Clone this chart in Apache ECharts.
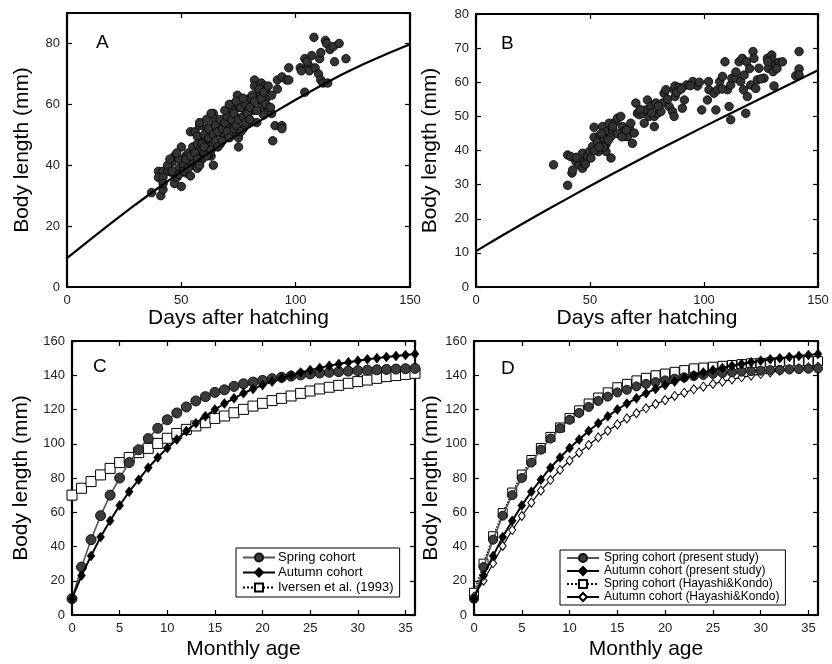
<!DOCTYPE html>
<html>
  <head>
    <meta charset="utf-8" />
    <title>Body length growth</title>
    <script src="https://cdn.jsdelivr.net/npm/echarts@6/dist/echarts.min.js"></script>
    <style>
      html, body { margin: 0; padding: 0; background: #fff; }
    </style>
  </head>

  <body>
    <div id="main" style="width: 832px; height: 664px"></div>
    <script type="text/javascript">
      // panel A: body length vs days after hatching (spring)
      const scatterA = [
        [37,31],[41,30],[42,32],[40,38],[40,36],[42,38],[44,38],[46,37.5],[42,36],[42,34],[47,34],[48,36],[50,33],
        [46,41],[47,43],[49,42],[50,46],[49,39],[51,40],[52,43],[52,37.5],[54,36.5],[53,44],[55,40],[54,41],[57,39],
        [54,51],[56,51],[58,53],[57,49.5],[57,43],[58,45],[59,42],[60,44],[61,48],[61,52],[60,48],[62,46],[64,53],
        [64,40],[63,43],[62,43.5],[64,57],[65,55],[67,53.5],[67.5,50.5],[64,47],[67,47],[69,49.5],[70,55],[71,53],
        [72.5,60],[72,58],[72.5,54],[74,50.5],[74.5,63],[75,46],[75,49],[75.5,59],[76,55.5],[77,52],[78.5,57],[79,61],
        [80,54],[80,62],[81.5,58],[82,68],[82,66],[83,54],[83.5,61.5],[84,64],[85,67],[85,59],[86,56.5],[86.5,66],
        [87,65],[87,62],[88,59],[89.5,63],[89.5,57],[90,48],[91,53],[92,65],[92,68],[94,69],[94,53],[94,52],[96,68],
        [97,72],[97,68],[102,72],[102.5,71],[104,64],[104,75],[105.5,73],[106,71],[107,76],[108,82],[108.5,72],
        [110,70],[110.5,75],[111,68],[112,67],[113,81],[113.5,80],[114,67],[115,78],[116.5,79],[117,74],[119,80],
        [122,75],[111,77],[105,74],
        [44,40],[45,42],[46,38],[48,44],[49,37],[51,38],[52,42],[53,39],[54,43],[55,46],[56,44],[57,47],[57,42],
        [58,40],[59,47],[60,50],[60,46],[61,43],[62,49],[62,52],[63,45],[64,50],[65,48],[65,53],[66,51],[67,55],
        [68,52],[68,48],[69,54],[70,51],[70,56],[71,49],[72,55],[73,52],[73,57],[74,53],[75,55],[76,51],[76,59],
        [77,56],[78,54],[78,60],[79,57],[80,59],[80,55],[81,63],[82,61],[83,58],[84,65],[85,62],[86,64],[87,60],
        [88,66],[89,59],[58,54],[61,55],[63,57],[66,46],[69,58],[71,60],[74,61],[77,62]
      ];
      const curveA = [
        [0,9.5],[10,15.5],[20,21.4],[30,27.1],[40,32.6],[50,37.9],[60,43],[70,47.9],[80,52.6],
        [90,57.1],[100,61.5],[110,65.7],[120,69.7],[130,73.3],[140,76.6],[150,79.7]
      ];

      // panel B: body length vs days after hatching (autumn)
      const scatterB = [
        [34,35.8],[40.2,38.7],[40.2,29.8],[41.6,38.2],[42.1,33.4],[42.4,34.3],[43.8,36.8],[45.3,35.8],[46,37.8],
        [46.7,34.8],[46.7,39.2],[47.5,36.3],[48.9,38.2],[49.7,39.7],[50.4,37.8],[51.1,41.2],[51.8,46.8],[51.8,43.9],
        [53.3,42.6],[53.7,39.7],[54.5,44.6],[55.5,47],[56.2,43.6],[57,41.7],[57,39.7],[57.7,45.6],[58.4,48],
        [59.2,37.8],[59.2,44.1],[59.9,46],[61.3,48.5],[62.1,49.5],[63.5,50],[64.3,47],[65,45.6],[65.7,44.1],
        [66.4,44.1],[67.2,46.5],[67.9,48],[68.6,42.1],[69.4,45.1],[70.1,53.9],[70.8,50.9],[71.6,50.5],[73,50.9],
        [73.8,48],[74.5,51.9],[75.2,54.8],[75.9,50],[76.7,52.9],[78.2,47],[78.2,50],[78.9,53.9],[79.6,50.9],
        [81.1,51.4],[81.8,53.9],[82.5,56.8],[83.3,57.8],[84.7,52.9],[86.2,51.4],[86.9,50],[86.9,57.8],[87.3,58.9],
        [87.3,55.8],[89.1,58.5],[90.5,52.4],[91.4,54.8],[92.3,59.2],[95.1,60.2],[97.1,58.9],[99,51.9],[101.5,54.8],
        [102,60.2],[102.2,57.8],[104.4,56.8],[105.2,51.9],[105.9,57.8],[106.9,60.2],[108.1,61.7],[109.2,66],
        [110.3,57.8],[111,52.9],[111.7,49],[111.7,59.2],[112.2,61.2],[113.9,61.2],[115.4,66],[116.1,60.2],[116.8,67],
        [117.3,57.8],[117.6,62.1],[118.3,50.9],[118.7,66],[119,55.8],[120.5,59.2],[121.5,69],[121.9,67],[122.7,58.2],
        [123.4,60.7],[124.1,64.1],[126.3,61.2],[127.8,67],[128.2,64.1],[129.7,68],[130,66.5],[130.3,63.1],
        [130.7,58.9],[131.4,65.1],[132.9,65.8],[134.4,66],[140.2,61.9],[141.7,69],[141.7,63.9],[141.7,62.1],
        [55,45],[56,41],[58,43],[60,47],[62,45],[44,38],[48,36],[52,40],[54,41],[64,44],[66,46],[72,52],[77,51],
        [80,53],[84,55],[88,57],[90,58],[94,59],[98,60],[108,58],[114,63],[120,64],[125,61],[128,66],[132,64]
      ];
      const curveB = [
        [0,10.5],[10,14.5],[20,18.4],[30,22.2],[40,25.9],[50,29.6],[60,33.2],[70,36.7],[80,40.2],
        [90,43.6],[100,47],[110,50.3],[120,53.6],[130,56.9],[140,60.2],[150,63.5]
      ];

      // panels C and D: body length vs monthly age
      const months = [];
      for (let m = 0; m <= 36; m++) months.push(m);
      const springCohort = [9.5,28,44,58,70,80,89,96.5,103,109,114,118,121.5,125,127.5,130,131.5,133.5,135,136,
        137,138,138.8,139.5,140.2,140.8,141.3,141.7,142.1,142.4,142.7,143,143.2,143.4,143.6,143.8,144];
      const autumnCohort = [9.5,23,34.5,45.5,55,64,72,79,86,92,97.5,102.5,107.5,112,116,120,123.5,126.5,129.5,132,
        134.3,136.3,138.3,140,141.6,143,144.3,145.5,146.6,147.6,148.5,149.3,150,150.7,151.3,151.8,152.4];
      const iversen = [70,74,77.9,81.8,85.6,89,92,94.8,97.3,100.2,103.2,106,108.4,110.4,112.3,114.8,116.2,118.1,
        120.1,122,123.6,125.2,126.5,127.9,129.4,130.8,132,133,134.1,135.3,136.3,137.2,138.2,139.2,139.8,140.5,141.1];
      const springHK = [13,30,46,59.5,71.5,82,90.5,97.5,104,109.5,115,119.5,123.5,127,130,133,135,137,138.5,140,
        141,142,143,144,144.5,145,145.5,146,146.5,147,147.2,147.5,147.7,148,148,148.2,148.3];
      const autumnHK = [10.7,20,30.2,40.3,49.6,57.8,65.6,72.6,78.8,84.7,90.1,94.8,99.3,103.7,107.6,111.3,114.8,
        117.8,120.7,123.2,125.5,127.9,129.8,131.8,133.3,134.9,136.3,137.6,138.8,139.8,140.7,141.7,142.7,143.5,
        144,144.6,145];

      const pair = (ys) => months.map((m, i) => [m, ys[i]]);

      const FONT = "Liberation Sans, Arial, sans-serif";
      const grids = [
        { left: 67, top: 13, width: 343, height: 274 },
        { left: 476, top: 14, width: 342, height: 273 },
        { left: 72, top: 341, width: 343, height: 274 },
        { left: 474, top: 341, width: 344, height: 274 }
      ];
      const axisLine = { show: true, onZero: false, lineStyle: { color: "#000", width: 2.2 } };
      const tick = { show: true, inside: true, length: 5, lineStyle: { color: "#000", width: 1.2 } };
      const label = { color: "#222", fontSize: 13, fontFamily: FONT, margin: 7 };
      const nameStyle = { color: "#000", fontSize: 21, fontFamily: FONT };

      const xRanges = [
        { min: 0, max: 150, interval: 50, name: "Days after hatching", gap: 21 },
        { min: 0, max: 150, interval: 50, name: "Days after hatching", gap: 21 },
        { min: 0, max: 36, interval: 5, name: "Monthly age", gap: 24 },
        { min: 0, max: 36, interval: 5, name: "Monthly age", gap: 24 }
      ];
      const yRanges = [
        { min: 0, max: 90, interval: 20, gap: 34 },
        { min: 0, max: 80, interval: 10, gap: 35 },
        { min: 0, max: 160, interval: 20, gap: 40 },
        { min: 0, max: 160, interval: 20, gap: 26 }
      ];

      const xAxis = [];
      const yAxis = [];
      xRanges.forEach((r, i) => {
        xAxis.push({
          type: "value", gridIndex: i, min: r.min, max: r.max, interval: r.interval,
          name: r.name, nameLocation: "middle", nameGap: r.gap, nameTextStyle: nameStyle,
          axisLine: axisLine, axisTick: tick, splitLine: { show: false },
          axisLabel: Object.assign({}, label, { showMaxLabel: i < 2 })
        });
      });
      xRanges.forEach((r, i) => {
        xAxis.push({
          type: "value", gridIndex: i, position: "top", min: r.min, max: r.max, interval: r.interval,
          axisLine: axisLine, axisTick: tick, axisLabel: { show: false }, splitLine: { show: false }
        });
      });
      yRanges.forEach((r, i) => {
        yAxis.push({
          type: "value", gridIndex: i, min: r.min, max: r.max, interval: r.interval,
          name: "Body length (mm)", nameLocation: "middle", nameGap: r.gap, nameTextStyle: nameStyle,
          axisLine: axisLine, axisTick: tick, splitLine: { show: false },
          axisLabel: Object.assign({}, label, { showMaxLabel: i !== 0 })
        });
      });
      yRanges.forEach((r, i) => {
        yAxis.push({
          type: "value", gridIndex: i, position: "right", min: r.min, max: r.max, interval: r.interval,
          axisLine: axisLine, axisTick: tick, axisLabel: { show: false }, splitLine: { show: false }
        });
      });

      const dot = { color: "#333", borderColor: "#000", borderWidth: 0.8, opacity: 1 };
      const curve = { type: "line", smooth: false, showSymbol: false, silent: true,
        lineStyle: { color: "#000", width: 2.2 }, z: 3 };

      const spring = (name, idx, size) => ({
        name: name, type: "line", xAxisIndex: idx, yAxisIndex: idx, data: pair(springCohort),
        symbol: "circle", symbolSize: size, showAllSymbol: true, z: 4,
        itemStyle: { color: "#3c3c3c", borderColor: "#111", borderWidth: 1 },
        lineStyle: { color: "#555", width: 1.6 }
      });
      const autumn = (name, idx) => ({
        name: name, type: "line", xAxisIndex: idx, yAxisIndex: idx, data: pair(autumnCohort),
        symbol: "diamond", symbolSize: [8, 10], showAllSymbol: true, z: 5,
        itemStyle: { color: "#000", borderColor: "#000", borderWidth: 0.5 },
        lineStyle: { color: "#000", width: 2 }
      });
      const openSquare = (name, idx, ys, size) => ({
        name: name, type: "line", xAxisIndex: idx, yAxisIndex: idx, data: pair(ys),
        symbol: "rect", symbolSize: size, showAllSymbol: true, z: 3,
        itemStyle: { color: "#fff", borderColor: "#000", borderWidth: 1 },
        lineStyle: { color: "#000", width: 1.5, type: "dotted" }
      });

      const series = [
        { type: "scatter", xAxisIndex: 0, yAxisIndex: 0, data: scatterA, symbolSize: 8.5, itemStyle: dot, z: 2 },
        Object.assign({}, curve, { xAxisIndex: 0, yAxisIndex: 0, data: curveA }),
        { type: "scatter", xAxisIndex: 1, yAxisIndex: 1, data: scatterB, symbolSize: 8.5, itemStyle: dot, z: 2 },
        Object.assign({}, curve, { xAxisIndex: 1, yAxisIndex: 1, data: curveB }),
        openSquare("Iversen et al. (1993)", 2, iversen, 10),
        spring("Spring cohort", 2, 10),
        autumn("Autumn cohort", 2),
        openSquare("Spring cohort (Hayashi&Kondo)", 3, springHK, 9),
        {
          name: "Autumn cohort (Hayashi&Kondo)", type: "line", xAxisIndex: 3, yAxisIndex: 3, data: pair(autumnHK),
          symbol: "diamond", symbolSize: [7, 9], showAllSymbol: true, z: 3,
          itemStyle: { color: "#fff", borderColor: "#000", borderWidth: 1 },
          lineStyle: { color: "#000", width: 1.2 }
        },
        spring("Spring cohort (present study)", 3, 9),
        autumn("Autumn cohort (present study)", 3)
      ];

      const letter = (t, left, top) => ({
        text: t, left: left, top: top, padding: 0,
        textStyle: { fontSize: 19, fontWeight: "normal", color: "#000", fontFamily: FONT }
      });

      const legendBase = {
        orient: "vertical", backgroundColor: "#fff", borderColor: "#000", borderWidth: 1,
        itemWidth: 32, itemHeight: 10, selectedMode: false, align: "left"
      };

      const option = {
        animation: false,
        backgroundColor: "#fff",
        textStyle: { fontFamily: FONT },
        title: [letter("A", 96, 33), letter("B", 501, 34), letter("C", 93, 357), letter("D", 501, 359)],
        grid: grids.map((g) => Object.assign({ containLabel: false }, g)),
        xAxis: xAxis,
        yAxis: yAxis,
        legend: [
          Object.assign({}, legendBase, {
            left: 236, top: 548, padding: [3, 6, 3, 6], itemGap: 2,
            data: ["Spring cohort", "Autumn cohort", "Iversen et al. (1993)"],
            textStyle: { fontSize: 13, color: "#000", fontFamily: FONT, padding: [0, 0, 0, -2] }
          }),
          Object.assign({}, legendBase, {
            left: 560, top: 550, padding: [2, 6, 2, 6], itemGap: 1,
            data: ["Spring cohort (present study)", "Autumn cohort (present study)",
              "Spring cohort (Hayashi&Kondo)", "Autumn cohort (Hayashi&Kondo)"],
            textStyle: { fontSize: 12, lineHeight: 11, color: "#000", fontFamily: FONT }
          })
        ],
        series: series
      };

      const myChart = echarts.init(document.getElementById("main"));
      myChart.setOption(option);
    </script>
  </body>
</html>
